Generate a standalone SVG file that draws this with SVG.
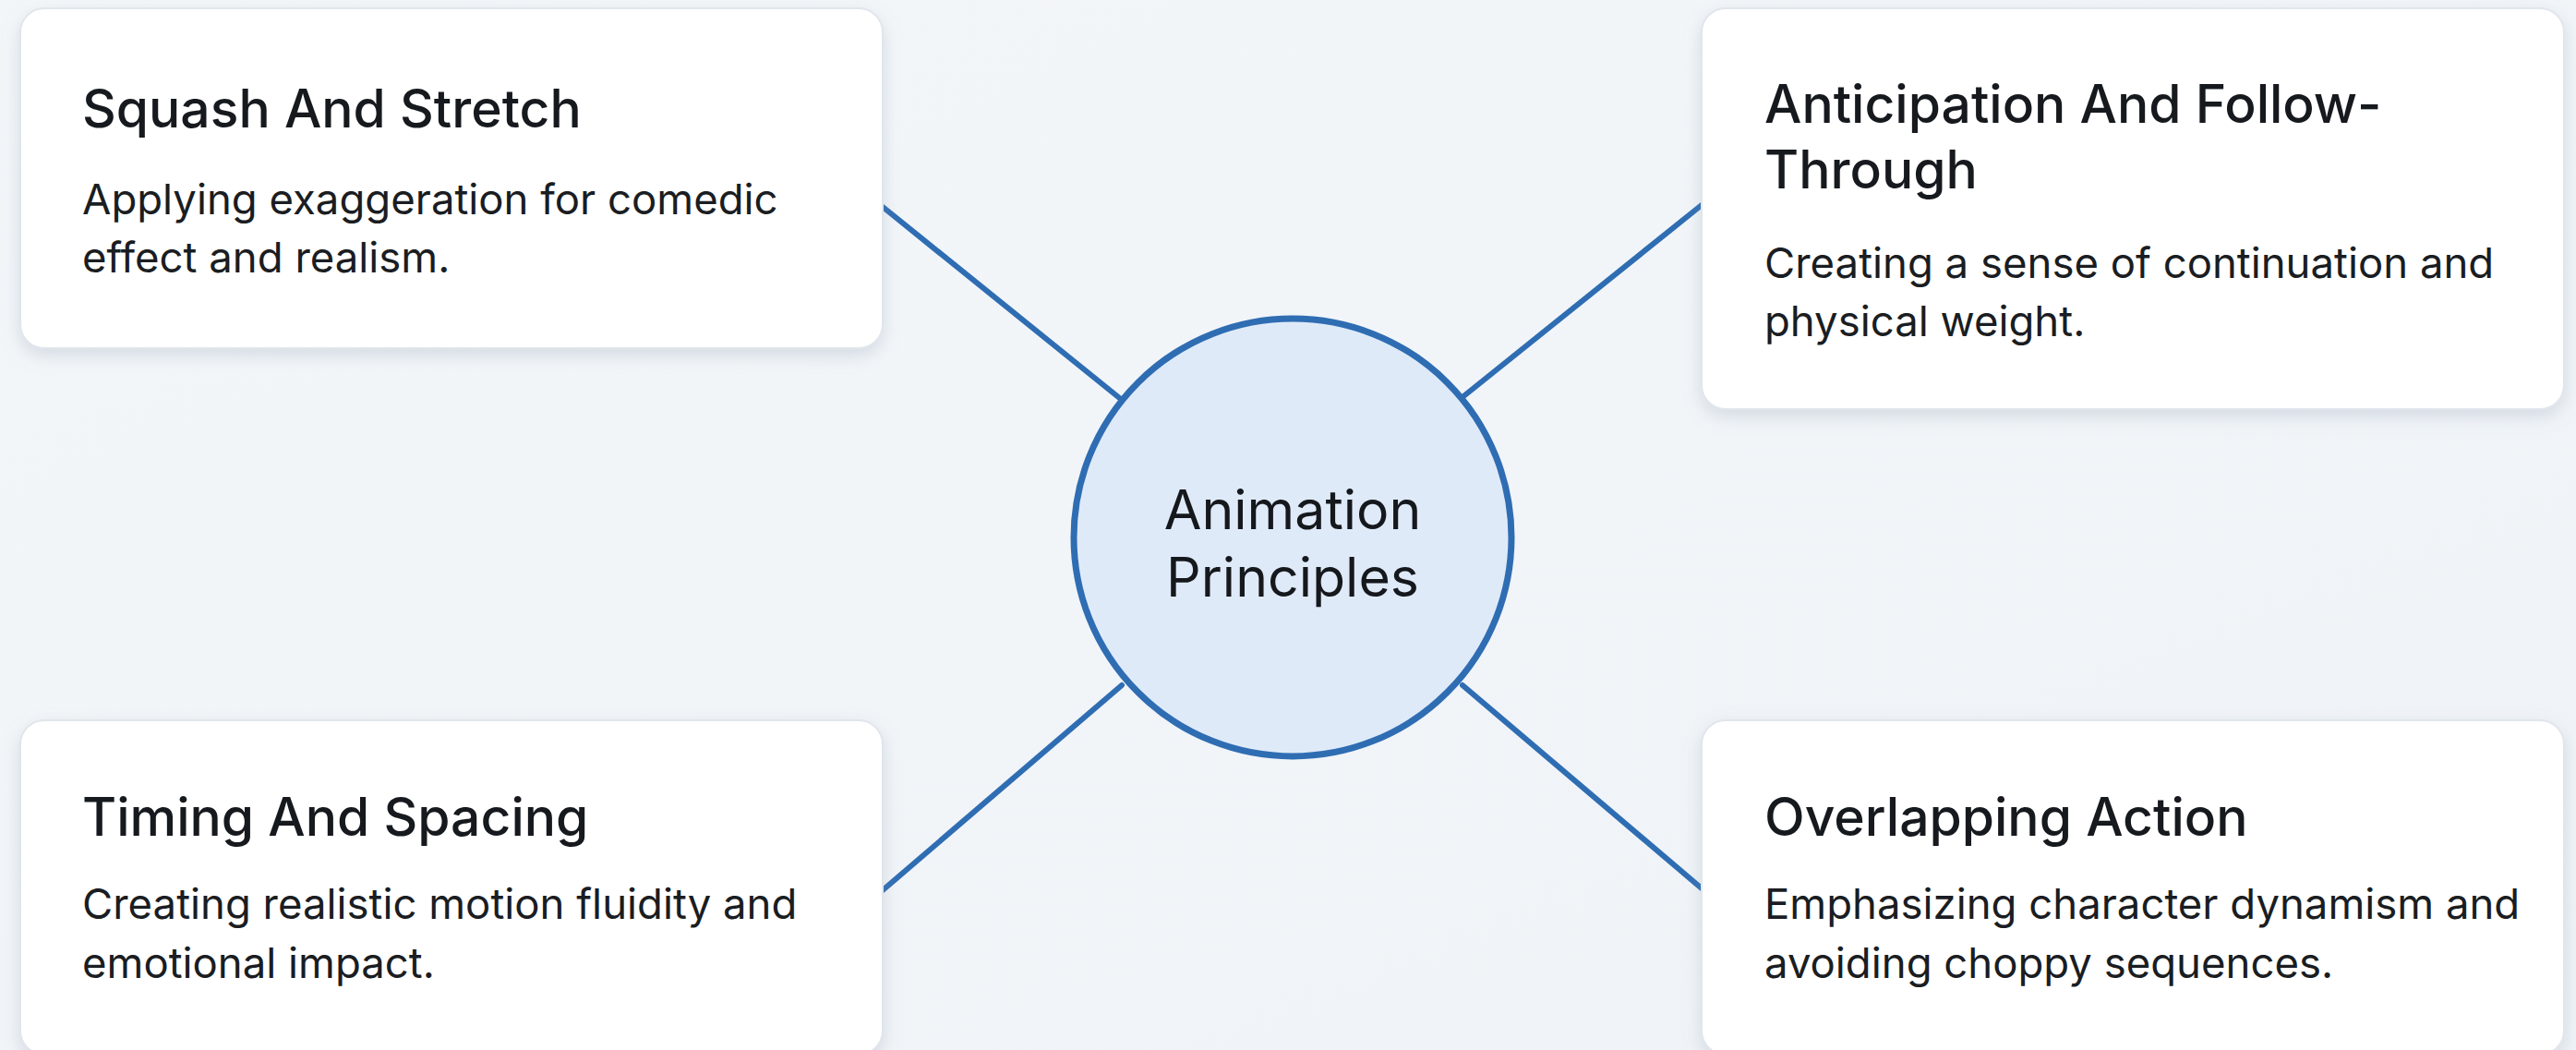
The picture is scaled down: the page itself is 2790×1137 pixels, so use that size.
<svg xmlns="http://www.w3.org/2000/svg" width="2790" height="1137" viewBox="0 0 2790 1137">
<defs>
<linearGradient id="bg" x1="0" y1="0" x2="1" y2="1">
<stop offset="0" stop-color="#f3f6f9"/>
<stop offset="1" stop-color="#eff3f7"/>
</linearGradient>
<filter id="sh" x="-10%" y="-10%" width="120%" height="130%">
<feDropShadow dx="0" dy="7" stdDeviation="9" flood-color="#8596ac" flood-opacity="0.28"/>
</filter>
</defs>
<style>
.card{fill:#ffffff;stroke:#e1e6ec;stroke-width:2;filter:url(#sh)}
.title{font-family:Inter,"Noto Sans",sans-serif;font-size:57px;font-weight:500;fill:#16191d}
.desc{font-family:Inter,"Noto Sans",sans-serif;font-size:45.5px;font-weight:400;fill:#1a1d22}
.hub{fill:#dfeaf9;stroke:#2f6db3;stroke-width:7}
.hubt{font-family:Inter,"Noto Sans",sans-serif;font-size:59px;font-weight:400;fill:#15181c;text-anchor:middle}
.conn{stroke:#2f6db3;stroke-width:6;fill:none;stroke-linecap:round}
</style>
<rect width="2790" height="1137" fill="url(#bg)"/>
<g id="connectors">
<line class="conn" x1="956" y1="224" x2="1215" y2="433"/>
<line class="conn" x1="1843" y1="222" x2="1584" y2="430"/>
<line class="conn" x1="956" y1="964" x2="1215" y2="742"/>
<line class="conn" x1="1843" y1="962" x2="1584" y2="742"/>
</g>
<g id="squash">
<rect class="card" x="22" y="9" width="934" height="368" rx="26"/>
<text class="title" x="89" y="138">Squash And Stretch</text>
<text class="desc" x="89" y="232">Applying exaggeration for comedic</text>
<text class="desc" x="89" y="295">effect and realism.</text>
</g>
<g id="anticipation">
<rect class="card" x="1843" y="9" width="934" height="434" rx="26"/>
<text class="title" x="1911" y="133">Anticipation And Follow-</text>
<text class="title" x="1911" y="204">Through</text>
<text class="desc" x="1911" y="301">Creating a sense of continuation and</text>
<text class="desc" x="1911" y="364">physical weight.</text>
</g>
<g id="timing">
<rect class="card" x="22" y="780" width="934" height="362" rx="26"/>
<text class="title" x="89" y="905">Timing And Spacing</text>
<text class="desc" x="89" y="995">Creating realistic motion fluidity and</text>
<text class="desc" x="89" y="1059">emotional impact.</text>
</g>
<g id="overlapping">
<rect class="card" x="1843" y="780" width="934" height="362" rx="26"/>
<text class="title" x="1911" y="905">Overlapping Action</text>
<text class="desc" x="1911" y="995">Emphasizing character dynamism and</text>
<text class="desc" x="1911" y="1059">avoiding choppy sequences.</text>
</g>
<g id="hub">
<circle class="hub" cx="1400" cy="582" r="237"/>
<text class="hubt" x="1400" y="573">Animation</text>
<text class="hubt" x="1400" y="646">Principles</text>
</g>
</svg>
